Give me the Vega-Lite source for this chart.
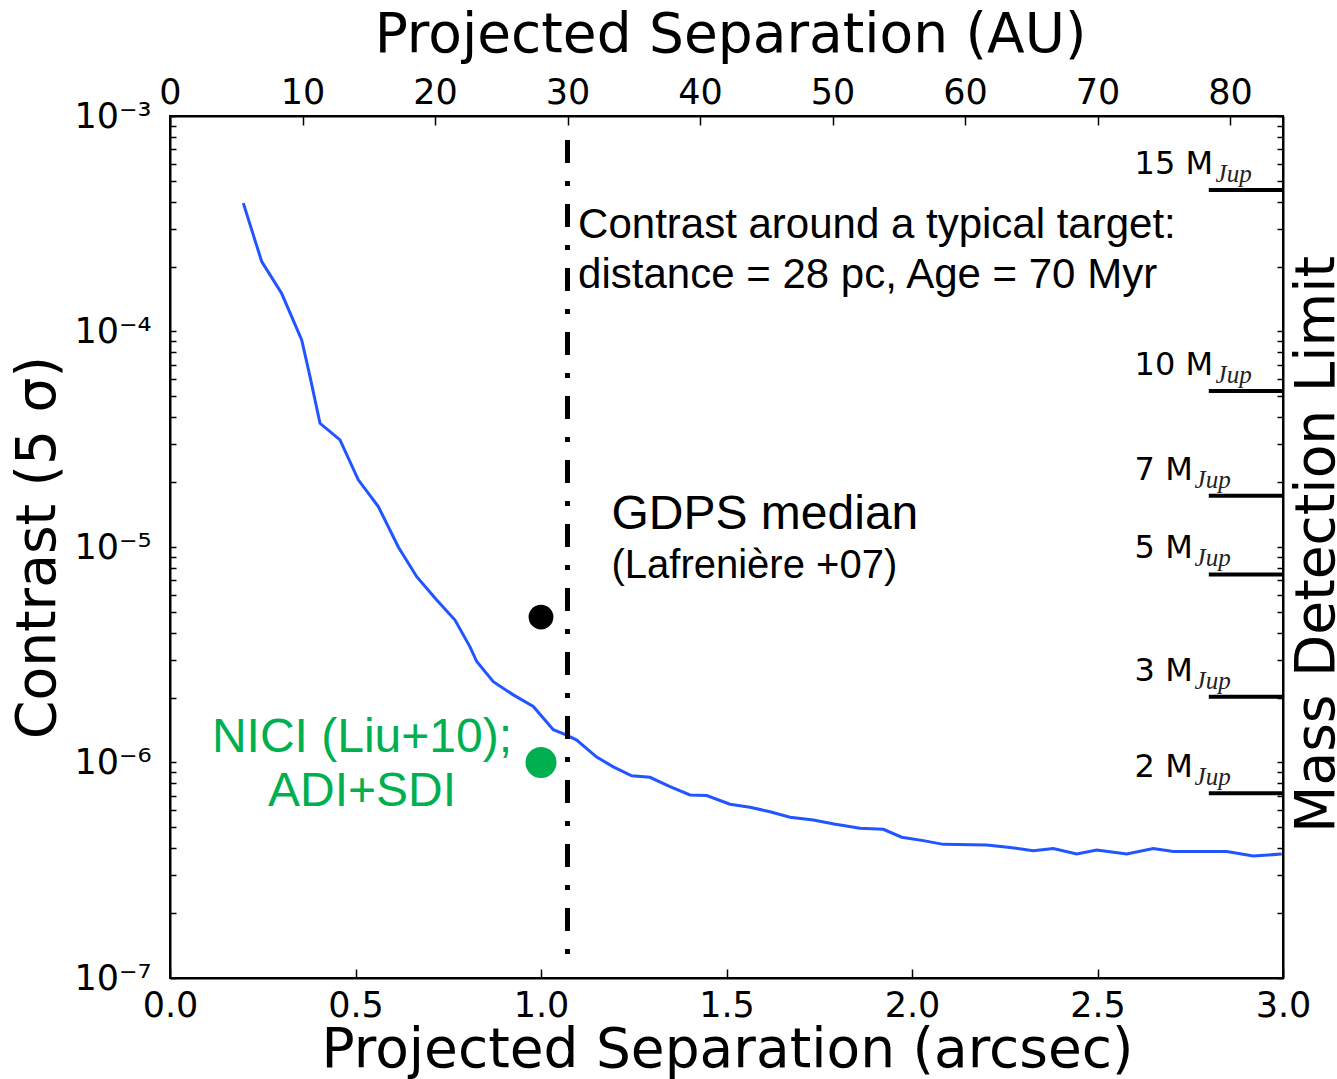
{
  "$schema": "https://vega.github.io/schema/vega-lite/v6.json",
  "width": 1113,
  "height": 862,
  "autosize": "none",
  "padding": {"left": 170, "top": 116, "right": 54, "bottom": 101},
  "background": "white",
  "config": {
    "view": {"stroke": "black", "strokeWidth": 2},
    "axis": {
      "labelFont": "DejaVu Sans", "titleFont": "DejaVu Sans",
      "labelColor": "black", "titleColor": "black",
      "domainColor": "black", "tickColor": "black",
      "domainWidth": 2, "tickWidth": 1.5, "grid": false,
      "labelFontSize": 35, "titleFontSize": 55, "titleFontWeight": "normal",
      "labelFlush": false, "labelOverlap": false
    }
  },
  "datasets": {
    "curve": [
      {"sep": 0.1976, "contrast": 3.94e-4},
      {"sep": 0.2472, "contrast": 2.11e-4},
      {"sep": 0.3011, "contrast": 1.50e-4},
      {"sep": 0.3550, "contrast": 9.14e-5},
      {"sep": 0.3774, "contrast": 6.17e-5},
      {"sep": 0.4043, "contrast": 3.75e-5},
      {"sep": 0.4582, "contrast": 3.14e-5},
      {"sep": 0.5075, "contrast": 2.05e-5},
      {"sep": 0.5615, "contrast": 1.54e-5},
      {"sep": 0.6154, "contrast": 1.00e-5},
      {"sep": 0.6650, "contrast": 7.28e-6},
      {"sep": 0.7189, "contrast": 5.68e-6},
      {"sep": 0.7682, "contrast": 4.58e-6},
      {"sep": 0.8086, "contrast": 3.44e-6},
      {"sep": 0.8267, "contrast": 2.94e-6},
      {"sep": 0.8714, "contrast": 2.37e-6},
      {"sep": 0.9253, "contrast": 2.06e-6},
      {"sep": 0.9792, "contrast": 1.82e-6},
      {"sep": 1.0332, "contrast": 1.42e-6},
      {"sep": 1.0693, "contrast": 1.34e-6},
      {"sep": 1.0962, "contrast": 1.27e-6},
      {"sep": 1.1501, "contrast": 1.06e-6},
      {"sep": 1.1949, "contrast": 9.55e-7},
      {"sep": 1.2445, "contrast": 8.68e-7},
      {"sep": 1.2938, "contrast": 8.54e-7},
      {"sep": 1.3477, "contrast": 7.72e-7},
      {"sep": 1.4016, "contrast": 7.07e-7},
      {"sep": 1.4466, "contrast": 7.02e-7},
      {"sep": 1.5094, "contrast": 6.40e-7},
      {"sep": 1.5633, "contrast": 6.20e-7},
      {"sep": 1.6173, "contrast": 5.91e-7},
      {"sep": 1.6712, "contrast": 5.57e-7},
      {"sep": 1.7340, "contrast": 5.41e-7},
      {"sep": 1.7900, "contrast": 5.18e-7},
      {"sep": 1.8598, "contrast": 4.95e-7},
      {"sep": 1.9226, "contrast": 4.90e-7},
      {"sep": 1.9722, "contrast": 4.50e-7},
      {"sep": 2.0305, "contrast": 4.34e-7},
      {"sep": 2.0844, "contrast": 4.17e-7},
      {"sep": 2.2013, "contrast": 4.14e-7},
      {"sep": 2.2642, "contrast": 4.03e-7},
      {"sep": 2.3270, "contrast": 3.90e-7},
      {"sep": 2.3809, "contrast": 3.99e-7},
      {"sep": 2.4440, "contrast": 3.76e-7},
      {"sep": 2.4979, "contrast": 3.93e-7},
      {"sep": 2.5787, "contrast": 3.76e-7},
      {"sep": 2.6504, "contrast": 3.99e-7},
      {"sep": 2.7043, "contrast": 3.86e-7},
      {"sep": 2.8482, "contrast": 3.86e-7},
      {"sep": 2.9199, "contrast": 3.68e-7},
      {"sep": 2.9965, "contrast": 3.76e-7}
    ],
    "mass": [
      {"label": "15 M", "contrast": 4.54e-4},
      {"label": "10 M", "contrast": 5.30e-5},
      {"label": "7 M", "contrast": 1.73e-5},
      {"label": "5 M", "contrast": 7.46e-6},
      {"label": "3 M", "contrast": 2.02e-6},
      {"label": "2 M", "contrast": 7.20e-7}
    ],
    "points": [
      {"group": "GDPS", "sep": 1.0, "contrast": 4.73e-6},
      {"group": "NICI", "sep": 1.0, "contrast": 1.0e-6}
    ]
  },
  "layer": [
    {
      "layer": [
        {
          "data": {"name": "curve"},
          "mark": {"type": "line", "color": "#2055ff", "strokeWidth": 3},
          "encoding": {
            "x": {
              "field": "sep", "type": "quantitative",
              "scale": {"domain": [0, 3], "nice": false, "zero": false},
              "axis": {
                "orient": "bottom",
                "values": [0, 0.5, 1, 1.5, 2, 2.5, 3],
                "format": ".1f",
                "tickSize": -9,
                "labelPadding": 19,
                "title": "Projected Separation (arcsec)",
                "titleX": 557, "titleY": 88, "titleBaseline": "alphabetic", "titleAlign": "center"
              }
            },
            "y": {
              "field": "contrast", "type": "quantitative",
              "scale": {"type": "log", "domain": [1e-7, 1e-3], "nice": false},
              "axis": {
                "orient": "left",
                "values": [1e-7, 2e-7, 3e-7, 4e-7, 5e-7, 6e-7, 7e-7, 8e-7, 9e-7, 1e-6, 2e-6, 3e-6, 4e-6, 5e-6, 6e-6, 7e-6, 8e-6, 9e-6, 1e-5, 2e-5, 3e-5, 4e-5, 5e-5, 6e-5, 7e-5, 8e-5, 9e-5, 1e-4, 2e-4, 3e-4, 4e-4, 5e-4, 6e-4, 7e-4, 8e-4, 9e-4, 1e-3],
                "labelExpr": "abs(log(datum.value)/LN10 - round(log(datum.value)/LN10)) < 0.001 ? '10' + ['⁻⁷','⁻⁶','⁻⁵','⁻⁴','⁻³'][round(log(datum.value)/LN10) + 7] : ''",
                "tickSize": -6,
                "labelPadding": 25,
                "labelBaseline": "middle",
                "encode": {"ticks": {"update": {"x2": {"signal": "abs(log(datum.value)/LN10 - round(log(datum.value)/LN10)) < 0.001 ? 10 : 5"}}}},
                "title": "Contrast (5 σ)",
                "titleAngle": 270, "titleX": -116, "titleY": 431, "titleBaseline": "alphabetic", "titleAlign": "center"
              }
            }
          }
        },
        {
          "data": {"values": [{}]},
          "mark": {"type": "rule", "color": "black", "strokeWidth": 5, "strokeDash": [23, 18, 5, 18]},
          "encoding": {
            "x": {"datum": 1.0714, "type": "quantitative"},
            "y": {"datum": 7.74e-4, "type": "quantitative"},
            "y2": {"datum": 1.28e-7}
          }
        },
        {
          "data": {"name": "points"},
          "mark": {"type": "circle", "opacity": 1},
          "encoding": {
            "x": {"field": "sep", "type": "quantitative"},
            "y": {"field": "contrast", "type": "quantitative"},
            "color": {"field": "group", "type": "nominal", "scale": {"domain": ["GDPS", "NICI"], "range": ["#000000", "#00b050"]}, "legend": null},
            "size": {"field": "group", "type": "nominal", "scale": {"domain": ["GDPS", "NICI"], "range": [616, 962]}, "legend": null}
          }
        },
        {
          "data": {"values": [{}]},
          "mark": {"type": "text", "text": ["Contrast around a typical target:", "distance = 28 pc, Age = 70 Myr"], "font": "Liberation Sans", "fontSize": 42, "align": "left", "baseline": "alphabetic", "lineHeight": 50, "color": "black"},
          "encoding": {
            "x": {"datum": 1.1, "type": "quantitative"},
            "y": {"datum": 2.72e-4, "type": "quantitative"}
          }
        },
        {
          "data": {"values": [{}]},
          "mark": {"type": "text", "text": "GDPS median", "font": "Liberation Sans", "fontSize": 48, "align": "left", "baseline": "alphabetic", "color": "black"},
          "encoding": {
            "x": {"datum": 1.19, "type": "quantitative"},
            "y": {"datum": 1.212e-5, "type": "quantitative"}
          }
        },
        {
          "data": {"values": [{}]},
          "mark": {"type": "text", "text": "(Lafrenière +07)", "font": "Liberation Sans", "fontSize": 40, "align": "left", "baseline": "alphabetic", "color": "black"},
          "encoding": {
            "x": {"datum": 1.19, "type": "quantitative"},
            "y": {"datum": 7.18e-6, "type": "quantitative"}
          }
        },
        {
          "data": {"values": [{}]},
          "mark": {"type": "text", "text": ["NICI (Liu+10);", "ADI+SDI"], "font": "Liberation Sans", "fontSize": 48, "align": "center", "baseline": "alphabetic", "lineHeight": 54, "color": "#00b050"},
          "encoding": {
            "x": {"datum": 0.5175, "type": "quantitative"},
            "y": {"datum": 1.12e-6, "type": "quantitative"}
          }
        },
        {
          "data": {"name": "mass"},
          "mark": {"type": "text", "font": "DejaVu Sans", "fontSize": 32, "align": "left", "baseline": "alphabetic", "dy": -16, "color": "black"},
          "encoding": {
            "x": {"datum": 2.6, "type": "quantitative"},
            "y": {"field": "contrast", "type": "quantitative"},
            "text": {"field": "label"}
          }
        },
        {
          "data": {"name": "mass"},
          "transform": [{"filter": "length(datum.label) > 3"}],
          "mark": {"type": "text", "text": "Jup", "font": "Liberation Serif", "fontStyle": "italic", "fontSize": 25, "align": "left", "baseline": "alphabetic", "dx": 81, "dy": -8, "color": "#222222"},
          "encoding": {
            "x": {"datum": 2.6, "type": "quantitative"},
            "y": {"field": "contrast", "type": "quantitative"}
          }
        },
        {
          "data": {"name": "mass"},
          "transform": [{"filter": "length(datum.label) <= 3"}],
          "mark": {"type": "text", "text": "Jup", "font": "Liberation Serif", "fontStyle": "italic", "fontSize": 25, "align": "left", "baseline": "alphabetic", "dx": 60, "dy": -8, "color": "#222222"},
          "encoding": {
            "x": {"datum": 2.6, "type": "quantitative"},
            "y": {"field": "contrast", "type": "quantitative"}
          }
        }
      ]
    },
    {
      "data": {"name": "mass"},
      "mark": {"type": "rule", "color": "black", "strokeWidth": 4},
      "encoding": {
        "x": {
          "datum": 78.4, "type": "quantitative",
          "scale": {"domain": [0, 84], "nice": false, "zero": false},
          "axis": {
            "orient": "top",
            "values": [0, 10, 20, 30, 40, 50, 60, 70, 80],
            "format": "d",
            "tickSize": -9,
            "labelPadding": 15,
            "title": "Projected Separation (AU)",
            "titleX": 560, "titleY": -65, "titleBaseline": "alphabetic", "titleAlign": "center"
          }
        },
        "x2": {"datum": 84},
        "y": {
          "field": "contrast", "type": "quantitative",
          "axis": {
            "orient": "right",
            "values": [1e-7, 2e-7, 3e-7, 4e-7, 5e-7, 6e-7, 7e-7, 8e-7, 9e-7, 1e-6, 2e-6, 3e-6, 4e-6, 5e-6, 6e-6, 7e-6, 8e-6, 9e-6, 1e-5, 2e-5, 3e-5, 4e-5, 5e-5, 6e-5, 7e-5, 8e-5, 9e-5, 1e-4, 2e-4, 3e-4, 4e-4, 5e-4, 6e-4, 7e-4, 8e-4, 9e-4, 1e-3],
            "labels": false,
            "tickSize": -6,
            "encode": {"ticks": {"update": {"x2": {"signal": "abs(log(datum.value)/LN10 - round(log(datum.value)/LN10)) < 0.001 ? -10 : -5"}}}},
            "title": "Mass Detection Limit",
            "titleAngle": 270, "titleX": 50, "titleY": 428, "titleBaseline": "alphabetic", "titleAlign": "center"
          }
        }
      }
    }
  ],
  "resolve": {"scale": {"x": "independent"}, "axis": {"x": "independent", "y": "independent"}}
}
